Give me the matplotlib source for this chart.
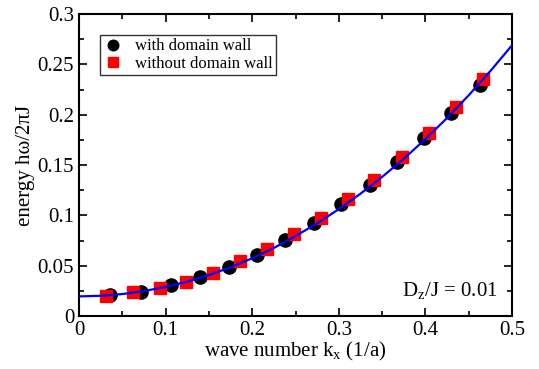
import matplotlib
matplotlib.use("Agg")
import matplotlib.pyplot as plt
from matplotlib.ticker import MultipleLocator

plt.rcParams['font.family'] = ['Liberation Serif', 'DejaVu Serif']
plt.rcParams['mathtext.fontset'] = 'custom'
plt.rcParams['mathtext.rm'] = 'Liberation Serif'
plt.rcParams['mathtext.it'] = 'Liberation Serif'

# with domain wall (black circles)
kx_dw = [0.036, 0.072, 0.106, 0.140, 0.173, 0.205, 0.238, 0.271, 0.302, 0.336, 0.367, 0.398, 0.430, 0.463]
e_dw = [0.021, 0.024, 0.031, 0.039, 0.049, 0.061, 0.0755, 0.092, 0.111, 0.130, 0.153, 0.177, 0.202, 0.229]

# without domain wall (red squares)
kx_nodw = [0.031, 0.062, 0.093, 0.124, 0.155, 0.186, 0.217, 0.248, 0.279, 0.311, 0.341, 0.373, 0.404, 0.435, 0.466]
e_nodw = [0.020, 0.0235, 0.028, 0.034, 0.043, 0.0546, 0.067, 0.081, 0.0976, 0.116, 0.135, 0.158, 0.182, 0.208, 0.235]

# analytic curve (blue line)
kx_line = [0.0, 0.025, 0.05, 0.075, 0.1, 0.125, 0.15, 0.175, 0.2, 0.225, 0.25,
           0.275, 0.3, 0.325, 0.35, 0.375, 0.4, 0.425, 0.45, 0.475, 0.5]
e_line = [0.0195, 0.0201, 0.0218, 0.0248, 0.0289, 0.0342, 0.0407, 0.0484, 0.0574, 0.0676, 0.0795,
          0.0920, 0.1062, 0.1215, 0.1382, 0.1562, 0.1758, 0.1967, 0.2193, 0.2434, 0.2690]

fig = plt.figure(figsize=(5.39, 3.69), dpi=100)
ax = fig.add_axes([0.1466, 0.1436, 0.8034, 0.8184])

ax.plot(kx_dw, e_dw, 'o', color='black', markersize=9.5, label='with domain wall', zorder=2)
ax.plot(kx_nodw, e_nodw, 's', color='red', markersize=8.5, label='without domain wall', zorder=2)
ax.plot(kx_line, e_line, '-', color='blue', linewidth=1.6, zorder=3)

ax.set_xlim(0, 0.5)
ax.set_ylim(0, 0.3)
ax.xaxis.set_major_locator(MultipleLocator(0.1))
ax.xaxis.set_minor_locator(MultipleLocator(0.05))
ax.yaxis.set_major_locator(MultipleLocator(0.05))
ax.yaxis.set_minor_locator(MultipleLocator(0.025))
ax.xaxis.set_major_formatter(plt.FuncFormatter(lambda v, p: f"{v:g}"))
ax.yaxis.set_major_formatter(plt.FuncFormatter(lambda v, p: f"{v:g}"))
ax.tick_params(which='both', direction='in', top=True, right=True, labelsize=15, width=1.2)
ax.tick_params(which='major', length=6)
ax.tick_params(which='minor', length=3.5)
for s in ax.spines.values():
    s.set_linewidth(1.5)

ax.set_xlabel(r'wave number k$_{\mathrm{x}}$ (1/a)', fontsize=15, labelpad=0)
ax.set_ylabel('energy hω/2πJ', fontsize=15, labelpad=2)

ax.text(0.967, 0.067, r'D$_{\mathrm{z}}$/J = 0.01', transform=ax.transAxes,
        ha='right', va='baseline', fontsize=15)

leg = ax.legend(loc='upper left', bbox_to_anchor=(0.048, 0.93), fontsize=12,
                frameon=True, fancybox=False, edgecolor='black', borderpad=0.2,
                handlelength=1.2, handletextpad=0.7, labelspacing=0.1,
                borderaxespad=0, markerscale=0.8)
leg.get_frame().set_linewidth(1.0)

fig.savefig('out.png', dpi=100)
